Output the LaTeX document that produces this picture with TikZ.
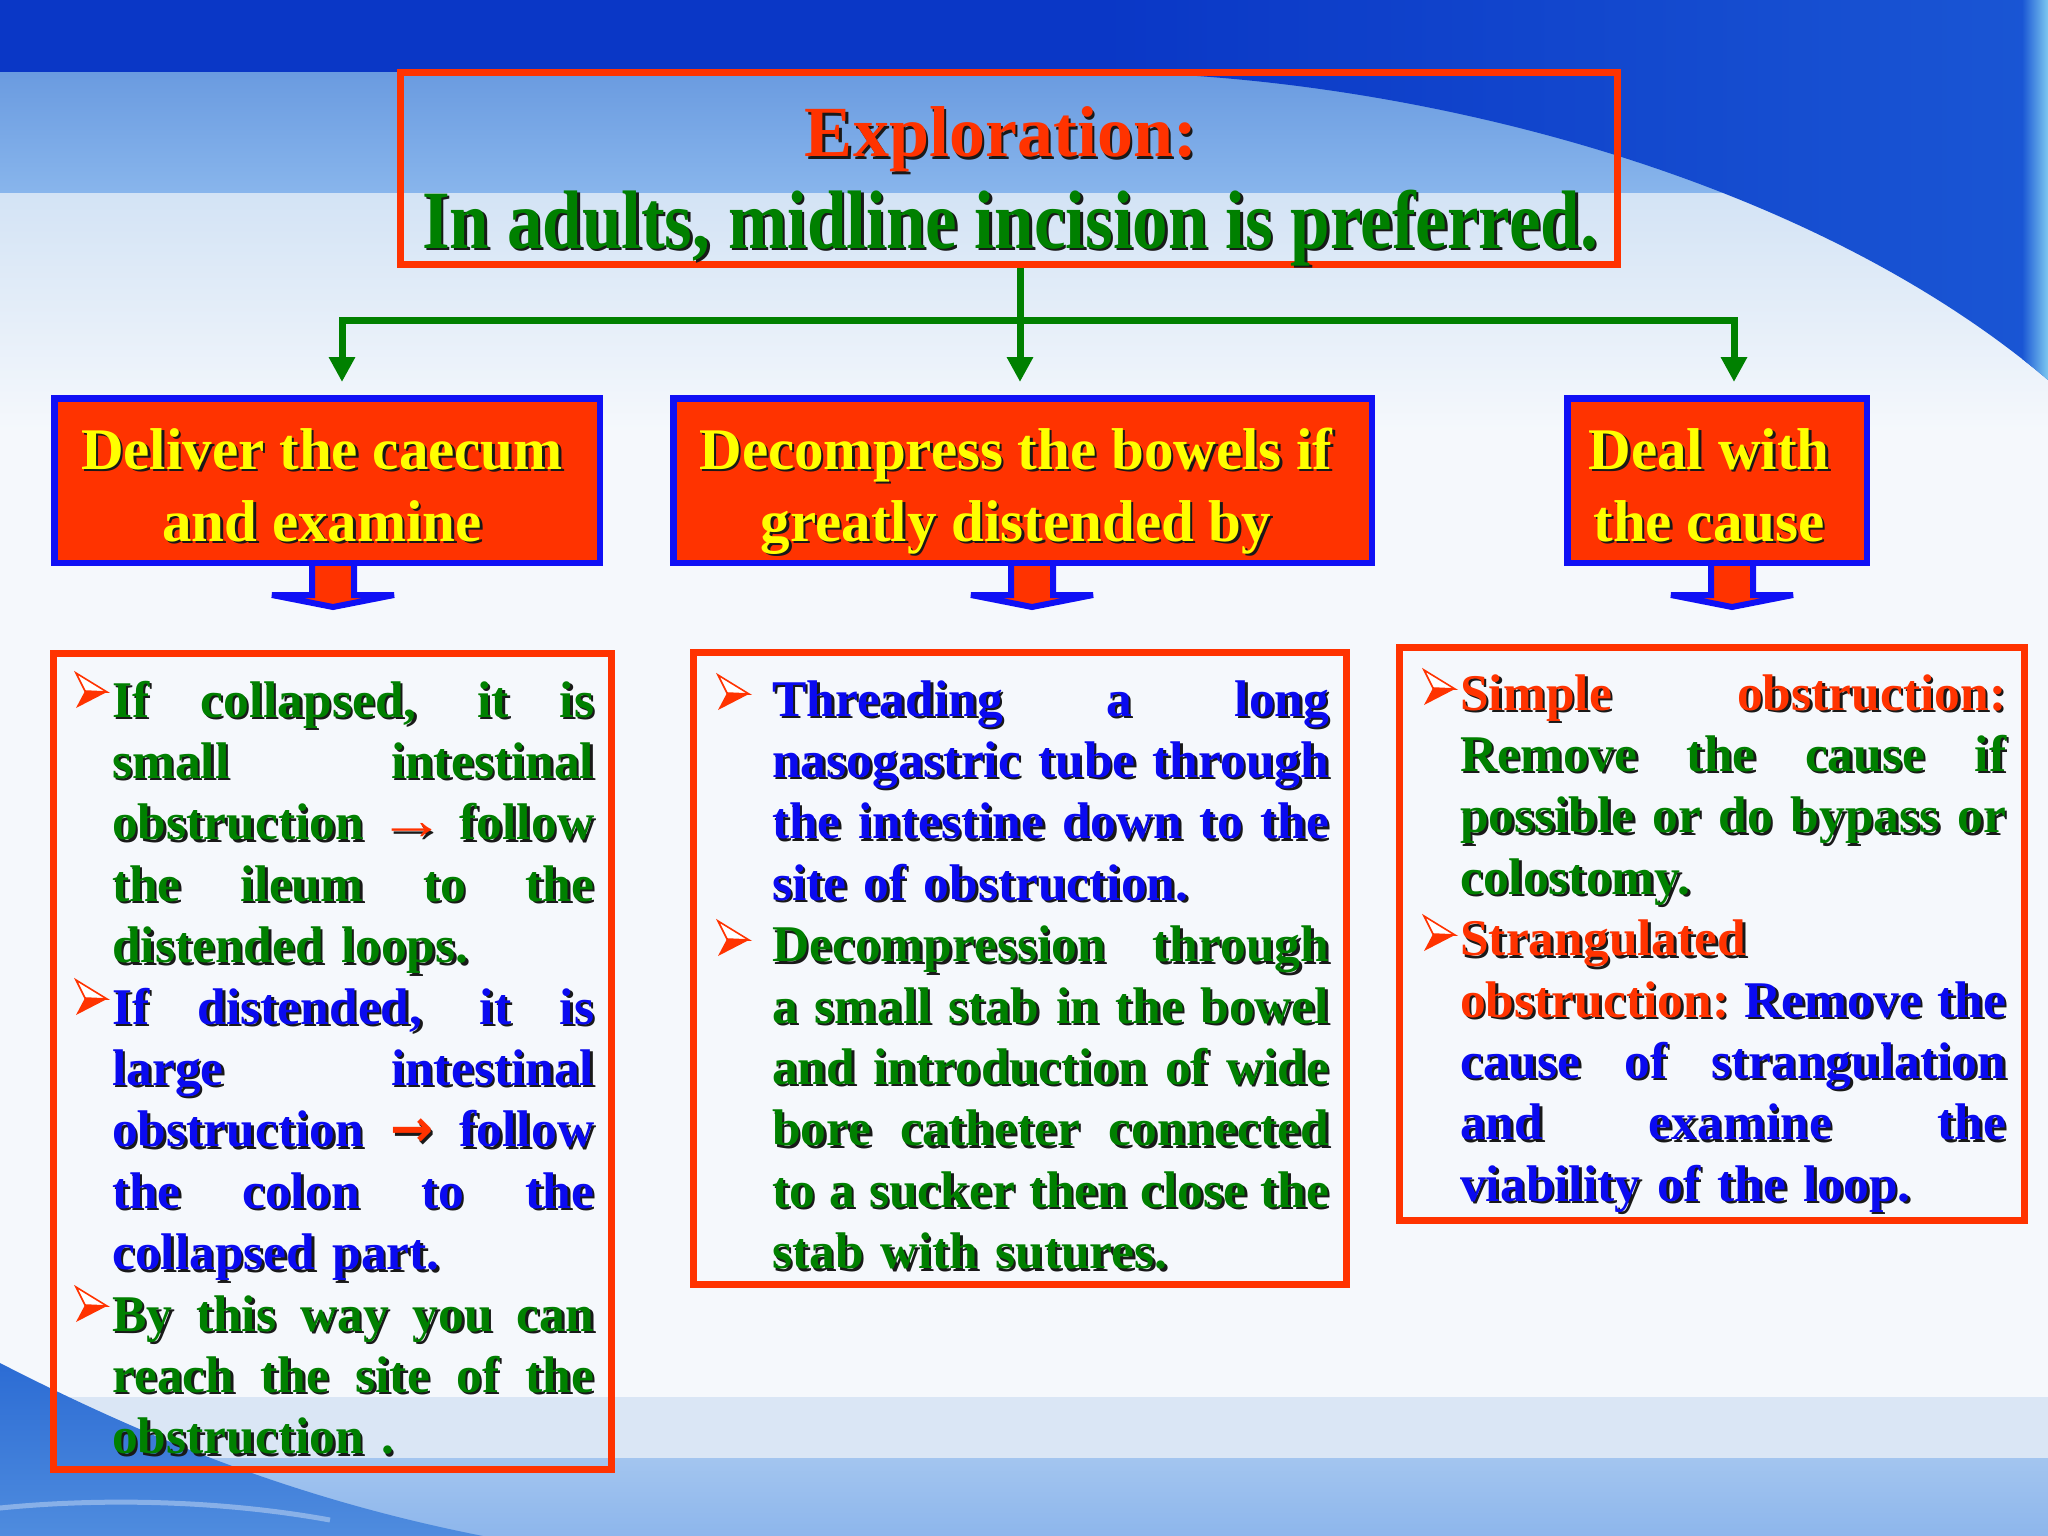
\documentclass[tikz,border=0pt]{standalone}
\usepackage{fontspec}
\usepackage{graphicx}
\setmainfont{Liberation Serif}
\newfontfamily\djv{DejaVu Sans}
\usetikzlibrary{arrows.meta}
\definecolor{redc}{RGB}{255,51,0}
\definecolor{bluec}{RGB}{10,10,240}
\definecolor{boxblue}{RGB}{16,16,245}
\definecolor{greenc}{RGB}{0,128,0}
\definecolor{yellowc}{RGB}{255,255,0}
\definecolor{shad}{RGB}{25,25,25}
\definecolor{bgA}{HTML}{0A37C6}
\definecolor{bgB}{HTML}{6A9BE0}
\definecolor{bgC}{HTML}{88B5EC}
\definecolor{bgD}{HTML}{D3E3F5}
\definecolor{bgE}{HTML}{F5F8FC}
\definecolor{bgF}{HTML}{1A56D4}
\definecolor{bgG}{HTML}{7CC8F0}
\definecolor{bgH}{HTML}{DAE6F5}
\definecolor{bgI}{HTML}{A3C5EF}
\definecolor{bgJ}{HTML}{8DB6EC}
\definecolor{bgK}{HTML}{2C6CD4}
\definecolor{bgL}{HTML}{4F8CDE}
\newcommand\cG{\color{greenc}}
\newcommand\cB{\color{bluec}}
\newcommand\cR{\color{redc}}
\newcommand\cY{\color{yellowc}}
\newcommand\shadowmode{\def\cG{}\def\cB{}\def\cR{}\def\cY{}}
\newcommand\stext[4]{%
  \node[#2,text=shad,xshift=2.5pt,yshift=-2.5pt] (#1-sh) at (#3) {\shadowmode #4};
  \node[#2] (#1) at (#3) {#4};}
\newcommand\jw[2]{\makebox[#1pt][s]{\spaceskip=.25em plus 1fil minus .15em\relax\xspaceskip=.25em plus 1fil minus .15em\relax #2}}
\newcommand\bul[2]{%
  \begin{scope}[shift={(#1,#2)}]
    \fill[redc] (9,18) -- (31,19) -- (0,35) -- cycle;
    \draw[redc, line width=1.6pt, fill=white, line join=miter] (0,0) -- (31,19) -- (9,18) -- cycle;
  \end{scope}}
\newcommand\barrow[2]{%
  \draw[boxblue, line width=6pt, fill=redc, line join=miter, shift={(#1,#2)}]
    (-21,0) -- (-21,45) -- (-61,45) -- (0,57) -- (61,45) -- (21,45) -- (21,0);}
\tikzset{
  ybox/.style={draw=boxblue, fill=redc, line width=6.5pt, inner sep=0},
  tbox/.style={draw=redc, line width=7pt, inner sep=0},
  ytext/.style={anchor=base, align=center, inner sep=0, text=yellowc,
    font=\bfseries\fontsize{59}{72}\selectfont},
  body/.style={anchor=base west, align=left, inner sep=0, text width=#1pt,
    font=\bfseries\fontsize{51.5}{61.4}\selectfont},
  gline/.style={draw=greenc, line width=7pt, line join=miter,
    -{Triangle[width=25pt,length=25pt]}, shorten >=13pt}
}
\begin{document}
\begin{tikzpicture}[x=1pt,y=-1pt]
\useasboundingbox (0,0) rectangle (2048,1536);
% ---------- background ----------
\fill[bgE] (0,0) rectangle (2048,1536);
\shade[top color=bgD, bottom color=bgE] (0,192) rectangle (2048,430);
\shade[top color=bgB, bottom color=bgC] (0,72) rectangle (2048,192);
\fill[bgA] (0,0) rectangle (2048,72);
\shade[left color=bgA, right color=bgF] (1100,72) .. controls (1400,75) and (1800,170) .. (2048,380) -- (2048,0) -- (1100,0) -- cycle;
\begin{scope}
  \clip (1100,72) .. controls (1400,75) and (1800,170) .. (2048,380) -- (2048,0) -- (1100,0) -- cycle;
  \shade[left color=bgF, right color=bgG] (2022,0) rectangle (2048,400);
\end{scope}
\fill[bgH] (0,1397) rectangle (2048,1458);
\shade[top color=bgI, bottom color=bgJ] (0,1458) rectangle (2048,1536);
\shade[top color=bgK, bottom color=bgL] (0,1363) .. controls (150,1440) and (300,1500) .. (483,1536) -- (0,1536) -- cycle;
\draw[white, opacity=0.35, line width=5pt] (0,1508) .. controls (100,1498) and (220,1500) .. (330,1520);
% ---------- title ----------
\node[tbox, minimum width=1217pt, minimum height=191pt] (title) at (1008.5,168.5) {};
\stext{t1}{anchor=base, inner sep=0, text=redc, font=\bfseries\fontsize{72}{72}\selectfont}{1001,157}{Exploration:}
\stext{t2}{anchor=base, inner sep=0, text=greenc, font=\bfseries\fontsize{83}{83}\selectfont}{1010,248}{\scalebox{0.856}[1]{In adults, midline incision is preferred.}}
% ---------- block arrows (drawn under the boxes) ----------
\barrow{333}{550}
\barrow{1032}{550}
\barrow{1732}{550}
% ---------- second level boxes ----------
\node[ybox, minimum width=545.5pt, minimum height=164.5pt] (b1) at (327,480.5) {};
\node[ybox, minimum width=698.5pt, minimum height=164.5pt] (b2) at (1022.5,480.5) {};
\node[ybox, minimum width=299.5pt, minimum height=164.5pt] (b3) at (1717,480.5) {};
\stext{b1t}{ytext}{322,541}{Deliver the caecum\\and examine}
\stext{b2t}{ytext}{1016,541}{Decompress the bowels if\\greatly distended by}
\stext{b3t}{ytext}{1709,541}{Deal with\\the cause}
% ---------- connectors ----------
\coordinate (hy) at (0,320);
\coordinate (tm) at (1020,268);
\coordinate (a1) at (342,320);
\coordinate (a3) at (1734,320);
\draw[gline] (tm |- hy) -- (a1) -- (a1 |- b1.north);
\draw[gline] (tm |- hy) -- (a3) -- (a3 |- b3.north);
\draw[gline] (tm) -- (tm |- b2.north);
% ---------- text boxes ----------
\node[tbox, minimum width=558pt, minimum height=816pt] (tL) at (332.5,1061.5) {};
\node[tbox, minimum width=653pt, minimum height=632pt] (tM) at (1020,968.5) {};
\node[tbox, minimum width=625pt, minimum height=573pt] (tR) at (1712,934) {};
\bul{76}{673}\bul{76}{980}\bul{76}{1287}
\bul{718}{675}\bul{718}{921}
\bul{1424}{670}\bul{1424}{916}
\stext{xL}{body=482}{112,717}{%
\cG\jw{482}{If collapsed, it is}\\
\cG\jw{482}{small intestinal}\\
\cG\jw{482}{obstruction {\mdseries\cR\scalebox{1.3}[1.1]{→}} follow}\\
\cG\jw{482}{the ileum to the}\\
\cG distended loops.\\
\cB\jw{482}{If distended, it is}\\
\cB\jw{482}{large intestinal}\\
\cB\jw{482}{obstruction {\djv\bfseries\cR →} follow}\\
\cB\jw{482}{the colon to the}\\
\cB collapsed part.\\
\cG\jw{482}{By this way you can}\\
\cG\jw{482}{reach the site of the}\\
\cG obstruction .}
\stext{xM}{body=557}{772,716}{%
\cB\jw{557}{Threading a long}\\
\cB\jw{557}{nasogastric tube through}\\
\cB\jw{557}{the intestine down to the}\\
\cB site of obstruction.\\
\cG\jw{557}{Decompression through}\\
\cG\jw{557}{a small stab in the bowel}\\
\cG\jw{557}{and introduction of wide}\\
\cG\jw{557}{bore catheter connected}\\
\cG\jw{557}{to a sucker then close the}\\
\cG stab with sutures.}
\stext{xR}{body=546}{1460,710}{%
\cR\jw{546}{Simple obstruction:}\\
\cG\jw{546}{Remove the cause if}\\
\cG\jw{546}{possible or do bypass or}\\
\cG colostomy.\\
\cR Strangulated\\
\jw{546}{\cR obstruction: \cB Remove the}\\
\cB\jw{546}{cause of strangulation}\\
\cB\jw{546}{and examine the}\\
\cB viability of the loop.}
\end{tikzpicture}
\end{document}
